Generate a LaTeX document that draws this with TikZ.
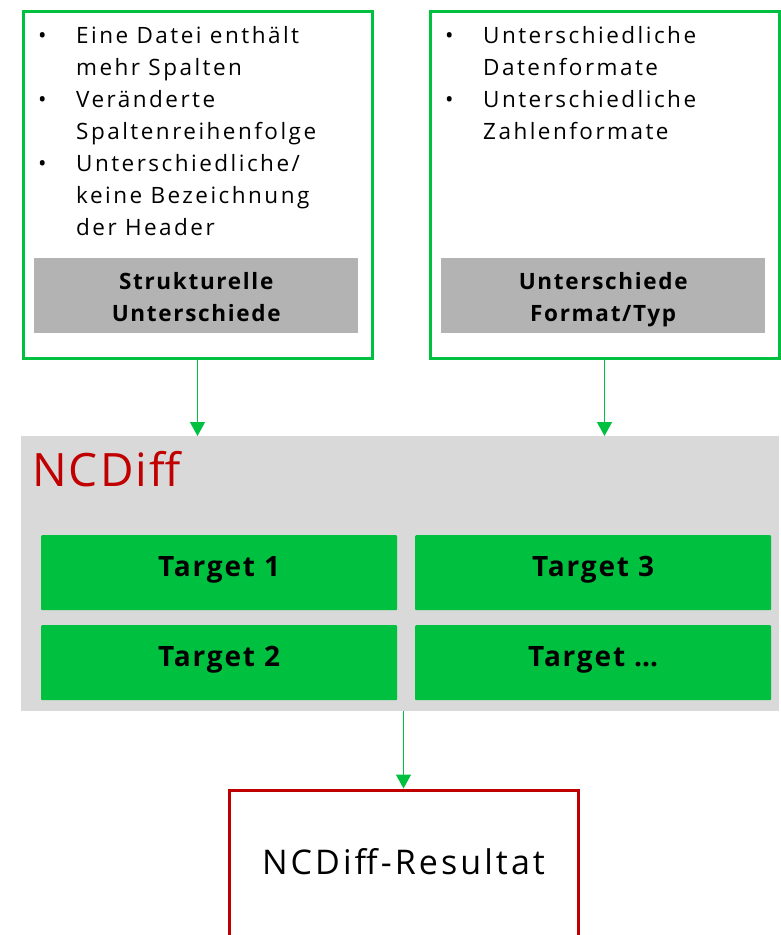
\documentclass[tikz,border=0pt]{standalone}
\usepackage{fontspec}
\setmainfont{Open Sans}
\newfontfamily\bodyfont[LetterSpace=11]{Open Sans}
\newfontfamily\labelfont[LetterSpace=7.5]{Open Sans}
\newfontfamily\targetfont[LetterSpace=6.5]{Open Sans}
\newfontfamily\titlefont[LetterSpace=4.5]{Open Sans}
\newfontfamily\resultfont[LetterSpace=9]{Open Sans}
\usepackage{array}
\usetikzlibrary{arrows.meta,positioning,calc}
\definecolor{ncgreen}{RGB}{0,192,64}
\definecolor{ncred}{RGB}{192,0,0}
\definecolor{labelgray}{RGB}{179,179,179}
\definecolor{areagray}{RGB}{217,217,217}

\begin{document}
\begin{tikzpicture}[x=1pt,y=-1pt,
    groupbox/.style={rectangle, draw=ncgreen, line width=3pt, fill=white, minimum width=349pt, minimum height=347pt, anchor=north west, inner sep=0pt},
    labelbox/.style={rectangle, fill=labelgray, minimum width=324pt, minimum height=75pt, inner ysep=0pt, align=center, font=\labelfont\fontsize{22.5}{32}\selectfont\bfseries, anchor=north west},
    targetbox/.style={rectangle, fill=ncgreen, rounded corners=1pt, minimum width=356pt, minimum height=75pt, text height=20pt, text depth=12pt, font=\targetfont\fontsize{28}{32}\selectfont\bfseries, anchor=north west},
    flow/.style={draw=ncgreen, line width=1.4pt, -{Triangle[width=15pt,length=14pt]}}]
    \useasboundingbox (0,0) rectangle (781,935);

    % Eingaben
    \node[groupbox] (strukt) at (21.5,9.5) {};
    \node[groupbox] (format) at (428.5,9.5) {};
    \node[labelbox] (struktlabel) at (34,258) {\rule{0pt}{28.4pt}Strukturelle\\Unterschiede\strut};
    \node[labelbox] (formatlabel) at (441,258) {\rule{0pt}{28.4pt}Unterschiede\\Format/Typ\strut};
    \node[anchor=north west, inner sep=0pt, font=\bodyfont\fontsize{22.5}{32}\selectfont] (struktlist) at (38,21) {%
        \begin{tabular}{@{}p{38pt}@{}l@{}}
        • & Eine Datei enthält\\
          & mehr Spalten\\
        • & Veränderte\\
          & Spaltenreihenfolge\\
        • & Unterschiedliche/\\
          & keine Bezeichnung\\
          & der Header
        \end{tabular}};
    \node[anchor=north west, inner sep=0pt, font=\bodyfont\fontsize{22.5}{32}\selectfont] (formatlist) at (445,21) {%
        \begin{tabular}{@{}p{38pt}@{}l@{}}
        • & Unterschiedliche\\
          & Datenformate\\
        • & Unterschiedliche\\
          & Zahlenformate
        \end{tabular}};

    % NCDiff
    \node[rectangle, fill=areagray, minimum width=758pt, minimum height=275pt, anchor=north west, inner sep=0pt] (ncdiff) at (21,436) {};
    \node[anchor=base west, inner sep=0pt, text=ncred, font=\titlefont\fontsize{46}{50}\selectfont] (ncdifftitle) at (32,486) {NCDiff};
    \node[targetbox] (target1) at (41,535) {Target 1};
    \node[targetbox] (target3) at (415,535) {Target 3};
    \node[targetbox] (target2) at (41,625) {Target 2};
    \node[targetbox] (targetn) at (415,625) {Target \dots};

    % Resultat
    \node[rectangle, draw=ncred, line width=3pt, fill=white, minimum width=349pt, minimum height=150pt, anchor=north, text height=24pt, text depth=6pt, font=\resultfont\fontsize{34}{40}\selectfont] (result) at (403.5,788.5) {NCDiff-Resultat};

    \draw[flow] (strukt.south) -- (strukt.south |- ncdiff.north);
    \draw[flow] (format.south) -- (format.south |- ncdiff.north);
    \draw[flow] (result.north |- ncdiff.south) -- (result.north);
\end{tikzpicture}
\end{document}
